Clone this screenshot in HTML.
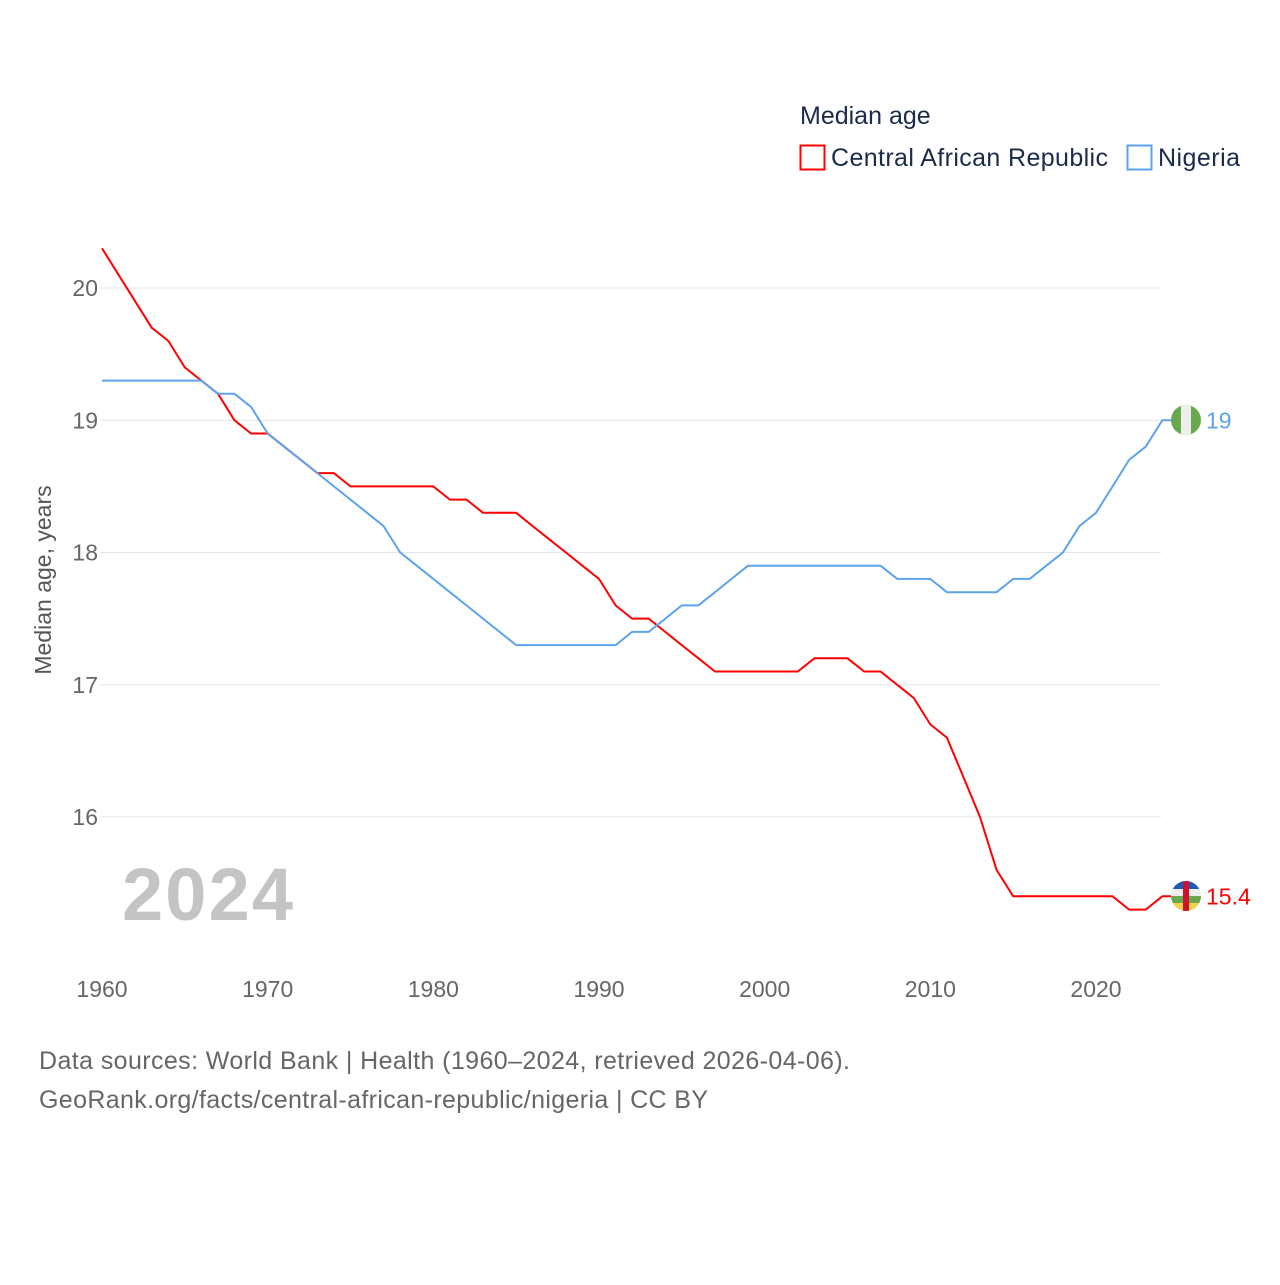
<!DOCTYPE html>
<html><head><meta charset="utf-8"><style>
body{margin:0;background:#fff;font-family:"Liberation Sans",sans-serif;}
svg text{font-family:"Liberation Sans",sans-serif;}
</style></head><body>
<svg id="chart" width="1280" height="1280" viewBox="0 0 1280 1280">
<g>
<text x="800" y="124" font-size="25" fill="#1a2b4c">Median age</text>
<rect x="800.5" y="145.5" width="24" height="24" fill="none" stroke="#ff0000" stroke-width="2"/>
<text x="831" y="166" font-size="25" fill="#1a2b4c" textLength="277">Central African Republic</text>
<rect x="1127.5" y="145.5" width="24" height="24" fill="none" stroke="#5ba3ec" stroke-width="2"/>
<text x="1158" y="166" font-size="25" fill="#1a2b4c" textLength="82">Nigeria</text>
</g>
<g id="grid"></g><g id="xaxis"></g>
<text x="122" y="920" font-size="74" font-weight="bold" fill="#c4c4c4" textLength="171">2024</text>
<text transform="translate(51,580) rotate(-90)" text-anchor="middle" font-size="23" fill="#555">Median age, years</text>
<g id="series"></g>
<g>
<clipPath id="cn"><circle cx="1186" cy="420" r="15"/></clipPath>
<g clip-path="url(#cn)"><rect x="1171" y="405" width="30" height="30" fill="#6aa84f"/><rect x="1181" y="405" width="10" height="30" fill="#eee"/></g>
</g>
<g>
<clipPath id="cc"><circle cx="1186" cy="896" r="15"/></clipPath>
<g clip-path="url(#cc)"><rect x="1171" y="881" width="30" height="8" fill="#1f5bb5"/><rect x="1171" y="889" width="30" height="7" fill="#eee"/><rect x="1171" y="896" width="30" height="7" fill="#6aa84f"/><rect x="1171" y="903" width="30" height="8" fill="#f5d04a"/><rect x="1183" y="881" width="6" height="30" fill="#d0102c"/></g>
</g>
<g>
<text x="39" y="1069" font-size="25" fill="#666" textLength="811">Data sources: World Bank | Health (1960–2024, retrieved 2026-04-06).</text>
<text x="39" y="1108" font-size="25" fill="#666" textLength="669">GeoRank.org/facts/central-african-republic/nigeria | CC BY</text>
</g>
</svg>
<script>
const years=[];for(let y=1960;y<=2024;y++)years.push(y);
const carValues=[20.3,20.1,19.9,19.7,19.6,19.4,19.3,19.2,19.0,18.9,18.9,18.8,18.7,18.6,18.6,18.5,18.5,18.5,18.5,18.5,18.5,18.4,18.4,18.3,18.3,18.3,18.2,18.1,18.0,17.9,17.8,17.6,17.5,17.5,17.4,17.3,17.2,17.1,17.1,17.1,17.1,17.1,17.1,17.2,17.2,17.2,17.1,17.1,17.0,16.9,16.7,16.6,16.3,16.0,15.6,15.4,15.4,15.4,15.4,15.4,15.4,15.4,15.3,15.3,15.4];
const nigeriaValues=[19.3,19.3,19.3,19.3,19.3,19.3,19.3,19.2,19.2,19.1,18.9,18.8,18.7,18.6,18.5,18.4,18.3,18.2,18.0,17.9,17.8,17.7,17.6,17.5,17.4,17.3,17.3,17.3,17.3,17.3,17.3,17.3,17.4,17.4,17.5,17.6,17.6,17.7,17.8,17.9,17.9,17.9,17.9,17.9,17.9,17.9,17.9,17.9,17.8,17.8,17.8,17.7,17.7,17.7,17.7,17.8,17.8,17.9,18.0,18.2,18.3,18.5,18.7,18.8,19.0];
const yTicks=[16,17,18,19,20];
const xTicks=[1960,1970,1980,1990,2000,2010,2020];
const NS="http://www.w3.org/2000/svg";
const xs=y=>102+(y-1960)*(994/60);
const ys=v=>817-(v-16)*132.25;
function mk(t,a,p){const e=document.createElementNS(NS,t);for(const k in a)e.setAttribute(k,a[k]);p.appendChild(e);return e;}
const grid=document.getElementById('grid');
yTicks.forEach(v=>{
 const l=mk('line',{x1:100,x2:1161,y1:ys(v),y2:ys(v),stroke:'#e6e6e6','stroke-width':1},grid);
 
 
 const t=mk('text',{x:98,y:ys(v)+8,'text-anchor':'end','font-size':23,fill:'#666'},grid);t.textContent=v;
 
 
});
const xa=document.getElementById('xaxis');
xTicks.forEach(v=>{
 const t=mk('text',{x:xs(v),y:997,'text-anchor':'middle','font-size':23,fill:'#666'},xa);t.textContent=v;
 
 
});
const s=document.getElementById('series');
function line(vals,col,name){
 const last=vals[vals.length-1];
 const d=vals.map((v,i)=>(i?'L':'M')+xs(years[i]).toFixed(1)+','+ys(v).toFixed(1)).join('')+'L1172,'+ys(last).toFixed(1);
 const p=mk('path',{d:d,fill:'none',stroke:col,'stroke-width':2,'stroke-linejoin':'round'},s);
 
 
 const t=mk('text',{x:1206,y:ys(last)+8,'font-size':23,fill:col},s);t.textContent=last;
 
 
}
line(carValues,'#ff0000','car');
line(nigeriaValues,'#5ba3ec','nigeria');
</script>
</body></html>
